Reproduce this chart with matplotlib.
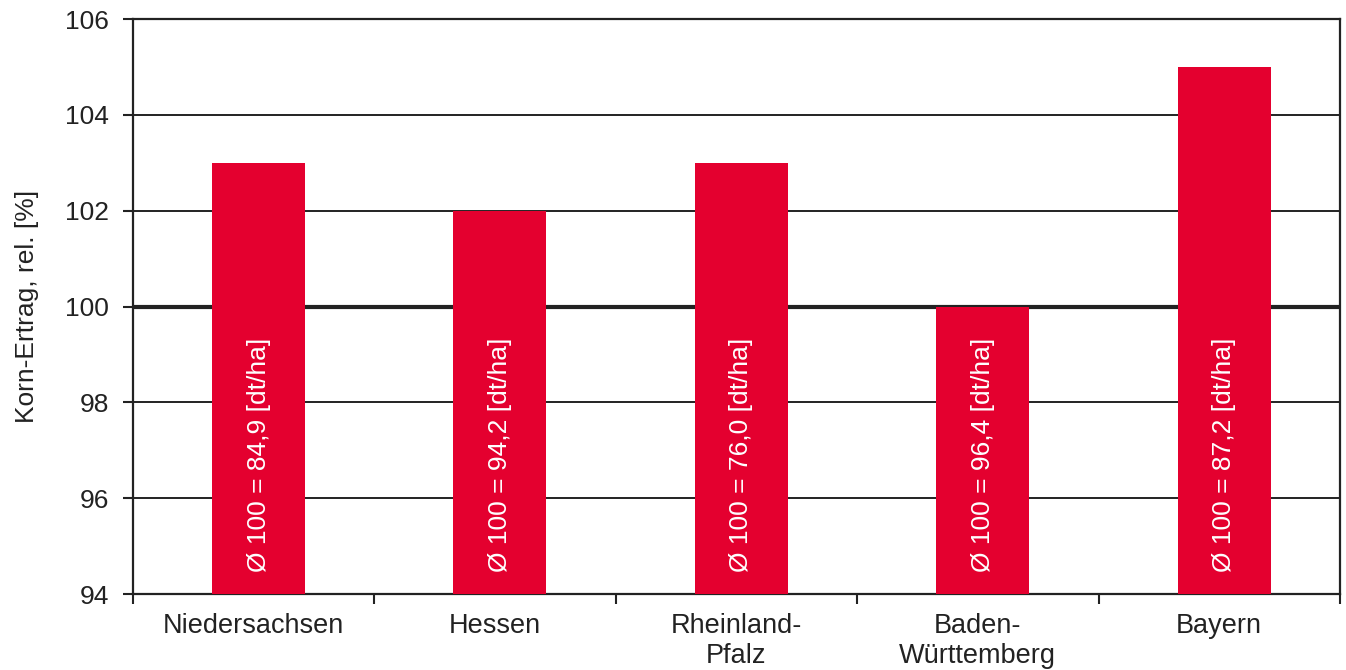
import numpy as np
import matplotlib.pyplot as plt

plt.rcParams['font.family'] = ['Liberation Sans', 'DejaVu Sans']

# data
regions = ["Niedersachsen", "Hessen", "Rheinland-\nPfalz", "Baden-\nWürttemberg", "Bayern"]
rel_yield = [103, 102, 103, 100, 105]
base_labels = ["Ø 100 = 84,9 [dt/ha]", "Ø 100 = 94,2 [dt/ha]", "Ø 100 = 76,0 [dt/ha]",
               "Ø 100 = 96,4 [dt/ha]", "Ø 100 = 87,2 [dt/ha]"]
yticks = [94, 96, 98, 100, 102, 104, 106]

red = '#E4002F'
dark = '#222222'

fig = plt.figure(figsize=(13.46, 6.7), dpi=100)
ax = fig.add_axes([0.0988, 0.1134, 0.8967, 0.8582])

x = np.arange(len(regions))
ax.bar(x + 0.02, np.array(rel_yield) - 94, bottom=94, width=0.385, color=red, zorder=3)

for xi, txt in zip(x, base_labels):
    ax.text(xi + 0.02, 94.46, txt, rotation=90, ha='center', va='bottom',
            color='white', fontsize=19, zorder=4)

ax.set_xlim(-0.5, len(regions) - 0.5)
ax.set_ylim(94, 106)
ax.set_yticks(yticks)
ax.set_yticklabels([str(v) for v in yticks], fontsize=19, color=dark)

# gridlines behind bars, heavier at 100
for v in yticks[1:-1]:
    ax.axhline(v, color=dark, lw=3.0 if v == 100 else 1.4, zorder=1)

ax.set_xticks(x)
ax.set_xticklabels(regions, fontsize=19.5, color=dark, linespacing=1.2)
ax.set_xticks(np.arange(-0.5, len(regions)), minor=True)
ax.tick_params(axis='x', which='major', length=0, pad=14)
ax.tick_params(axis='x', which='minor', length=7, width=1.5, color=dark, direction='out')
ax.tick_params(axis='y', length=7, width=1.5, color=dark, direction='out', pad=10)

for s in ax.spines.values():
    s.set_color(dark)
    s.set_linewidth(1.6)

ax.set_ylabel("Korn-Ertrag, rel. [%]", fontsize=19, color=dark, labelpad=19)

fig.savefig("out.png", dpi=100)
